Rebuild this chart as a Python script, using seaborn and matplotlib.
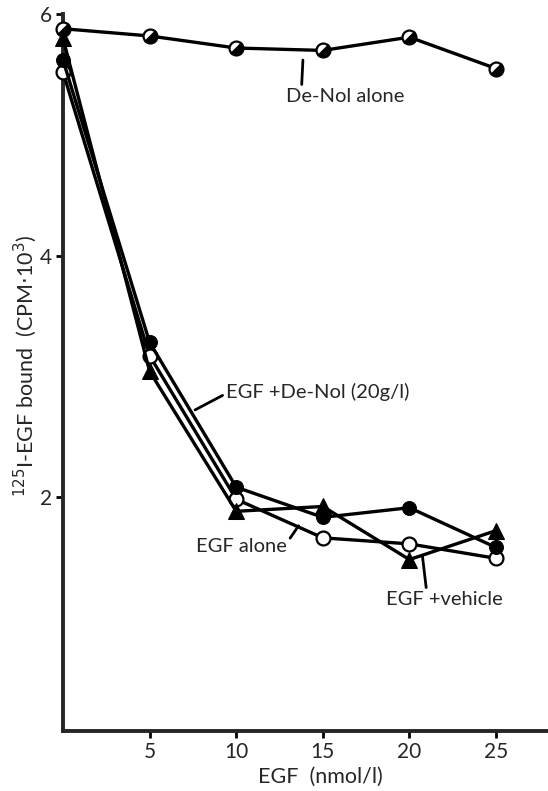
import numpy as np
import pandas as pd
import matplotlib
matplotlib.use('Agg')
import matplotlib.pyplot as plt
from matplotlib.markers import MarkerStyle
from matplotlib.transforms import Affine2D
import seaborn as sns

# values
egf = [0, 5, 10, 15, 20, 25]
denol_alone = [5.88, 5.82, 5.72, 5.70, 5.81, 5.55]
egf_denol = [5.62, 3.28, 2.08, 1.83, 1.91, 1.58]
egf_vehicle = [5.80, 3.04, 1.88, 1.92, 1.48, 1.72]
egf_alone = [5.52, 3.17, 1.98, 1.66, 1.61, 1.49]

xticks = [5, 10, 15, 20, 25]
yticks = [2, 4, 6]

sns.set_style('ticks')
plt.rcParams['font.family'] = ['Lato', 'DejaVu Sans']

fig = plt.figure(figsize=(5.48, 7.91), dpi=100)
ax = fig.add_axes([0.115, 0.076, 0.885, 0.906])

lw = 2.4
ms = 10
half = MarkerStyle('o', fillstyle='bottom', transform=Affine2D().rotate_deg(45))

sns.lineplot(x=egf, y=egf_alone, ax=ax, color='k', lw=lw, marker='o', ms=ms,
             mfc='white', mec='k', mew=1.6, clip_on=False, zorder=3)
sns.lineplot(x=egf, y=egf_vehicle, ax=ax, color='k', lw=lw, marker='^', ms=ms + 1,
             mfc='k', mec='k', clip_on=False, zorder=3)
sns.lineplot(x=egf, y=egf_denol, ax=ax, color='k', lw=lw, marker='o', ms=ms,
             mfc='k', mec='k', clip_on=False, zorder=3)
sns.lineplot(x=egf, y=denol_alone, ax=ax, color='k', lw=lw, marker=half, ms=ms,
             mfc='k', mfcalt='white', mec='k', mew=1.6, clip_on=False, zorder=4)

ax.set_xlim(0, 28)
ax.set_ylim(0.06, 6)
ax.set_xticks(xticks)
ax.set_yticks(yticks)
ax.tick_params(width=2, length=5, labelsize=15, color='k', pad=3)
for s in ['left', 'bottom']:
    ax.spines[s].set_linewidth(2.8)
sns.despine(ax=ax)

ax.set_xlabel('EGF  (nmol/l)', fontsize=15.5)
ax.xaxis.set_label_coords((320 - 63) / 485, -0.05)
ax.set_ylabel(r'$^{125}$I-EGF bound  (CPM$\cdot$10$^{3}$)', fontsize=15.5)
ax.yaxis.set_label_coords(-0.05, 0.51)

# labels with leader lines
fs = 14.5
lk = dict(arrowstyle='-', color='k', lw=2, shrinkA=0, shrinkB=0)
ax.annotate('De-Nol alone', xy=(13.85, 5.62), xytext=(16.3, 5.32),
            ha='center', va='center', fontsize=fs,
            arrowprops=dict(lk, relpos=(0.13, 1.0)))
ax.annotate('EGF +De-Nol (20g/l)', xy=(7.62, 2.72), xytext=(9.4, 2.87),
            ha='left', va='center', fontsize=fs,
            arrowprops=dict(lk, relpos=(0.0, 0.4)))
ax.annotate('EGF alone', xy=(13.6, 1.76), xytext=(10.3, 1.59),
            ha='center', va='center', fontsize=fs,
            arrowprops=dict(lk, relpos=(1.0, 0.7)))
ax.annotate('EGF +vehicle', xy=(20.75, 1.51), xytext=(22.0, 1.15),
            ha='center', va='center', fontsize=fs,
            arrowprops=dict(lk, relpos=(0.35, 1.0)))

fig.savefig('out.png', dpi=100)
